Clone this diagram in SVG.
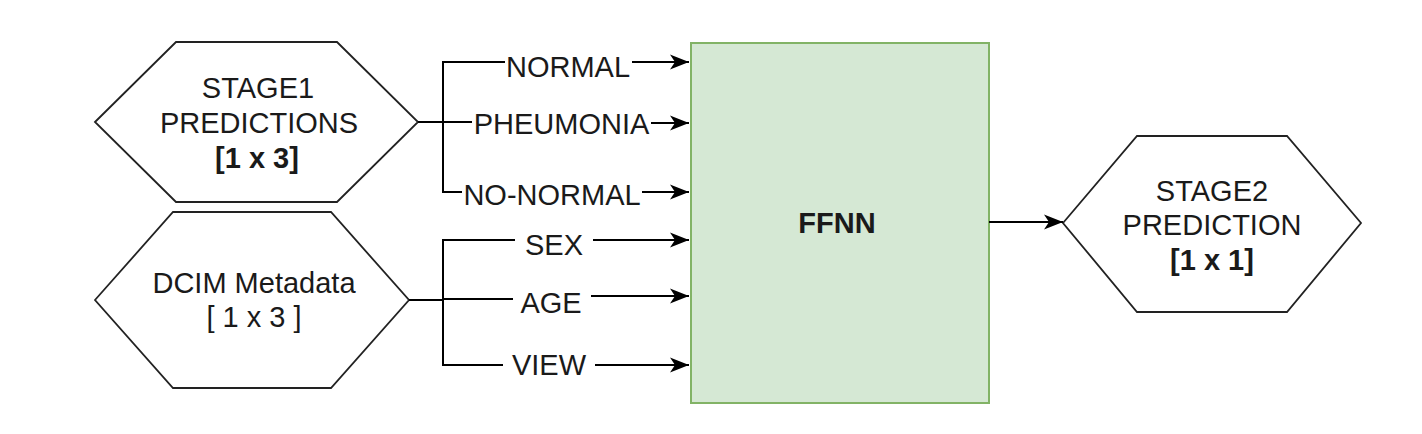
<svg xmlns="http://www.w3.org/2000/svg" width="1422" height="434" viewBox="0 0 1422 434">
<style>
.hex{fill:#fff;stroke:#222;stroke-width:1.8}
.t{font-family:"Liberation Sans",Arial,sans-serif;font-size:29px;fill:#1a1a1a;text-anchor:middle}
.b{font-weight:bold}
.c{fill:none;stroke:#000;stroke-width:2}
</style>
<defs>
<marker id="arr" viewBox="0 0 19 16" refX="19" refY="8" markerWidth="19" markerHeight="16" markerUnits="userSpaceOnUse" orient="auto">
<path d="M0,0.5 L19,8 L0,15.5 L5,8 z" fill="#000"/>
</marker>
</defs>
<rect width="1422" height="434" fill="#fff"/>
<g id="stage1">
<polygon class="hex" points="95,122 176,42 337,42 418,122 337,202 176,202"/>
<text class="t" x="258" y="98">STAGE1</text>
<text class="t" x="259" y="133">PREDICTIONS</text>
<text class="t b" x="257" y="168">[1 x 3]</text>
</g>
<g id="dcim">
<polygon class="hex" points="95,300 173,212 331,212 409,300 331,388 173,388"/>
<text class="t" x="254" y="293">DCIM Metadata</text>
<text class="t" x="254" y="327">[ 1 x 3 ]</text>
</g>
<g id="ffnn">
<rect x="691" y="43" width="298" height="360" fill="#d5e8d4" stroke="#82b366" stroke-width="2"/>
<text class="t b" x="837" y="233">FFNN</text>
</g>
<g id="stage2">
<polygon class="hex" points="1063,223 1137,136 1287,136 1361,223 1287,312 1137,312"/>
<text class="t" x="1212" y="201">STAGE2</text>
<text class="t" x="1212" y="235">PREDICTION</text>
<text class="t b" x="1212" y="270">[1 x 1]</text>
</g>
<g id="connectors">
<path class="c" d="M418,122 H443 V62 H505"/>
<path class="c" d="M632,62 H689" marker-end="url(#arr)"/>
<path class="c" d="M443,122 H472"/>
<path class="c" d="M651,123 H689" marker-end="url(#arr)"/>
<path class="c" d="M443,122 V192 H462"/>
<path class="c" d="M642,192 H689" marker-end="url(#arr)"/>
<path class="c" d="M409,300 H443 V240 H515"/>
<path class="c" d="M593,240 H689" marker-end="url(#arr)"/>
<path class="c" d="M443,299 H513"/>
<path class="c" d="M591,296 H689" marker-end="url(#arr)"/>
<path class="c" d="M443,300 V365 H503"/>
<path class="c" d="M595,365 H689" marker-end="url(#arr)"/>
<path class="c" d="M989,222 H1063" marker-end="url(#arr)"/>
<text class="t" x="568" y="77">NORMAL</text>
<text class="t" x="561.5" y="134">PHEUMONIA</text>
<text class="t" x="552" y="205">NO-NORMAL</text>
<text class="t" x="554" y="255">SEX</text>
<text class="t" x="551" y="313">AGE</text>
<text class="t" x="549" y="375">VIEW</text>
</g>
</svg>
